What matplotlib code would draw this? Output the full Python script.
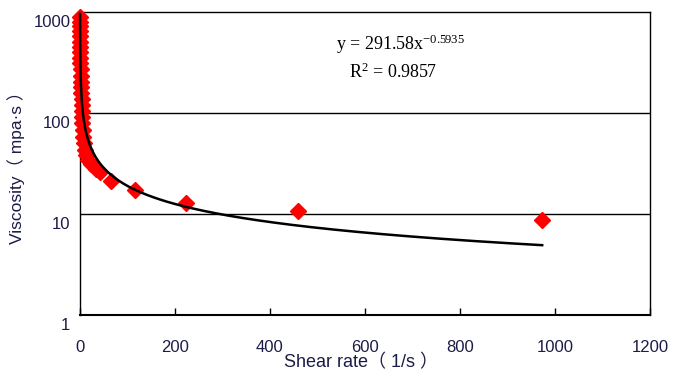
import matplotlib
matplotlib.use("Agg")
import matplotlib.pyplot as plt
import numpy as np
from matplotlib.transforms import ScaledTranslation

# Data
shear_rate = [0.15, 0.18, 0.22, 0.26, 0.31, 0.39, 0.48, 0.59, 0.74, 0.90, 1.14, 1.44,
              1.81, 2.25, 2.81, 3.2, 3.6, 4.0, 4.6, 5.2, 6.0, 7.0, 8.5, 10, 13, 17, 24,
              33, 42, 66, 116, 223, 459, 973]
viscosity = [900, 800, 720, 650, 580, 510, 450, 400, 350, 310, 270, 235,
             205, 180, 158, 138, 120, 105, 92, 80, 68, 58, 50, 43, 38, 34, 31,
             28, 26, 21, 17.3, 12.8, 10.6, 8.7]

fit_a = 291.58
fit_b = -0.5935
fit_r2 = 0.9857

x_ticks = [0, 200, 400, 600, 800, 1000, 1200]
y_ticks = [1, 10, 100, 1000]
y_ticklabels = ["1", "10", "100", "1000"]

label_color = "#1c1c48"

plt.rcParams["mathtext.fontset"] = "custom"
plt.rcParams["mathtext.rm"] = "Liberation Serif"
plt.rcParams["mathtext.it"] = "Liberation Serif"

fig = plt.figure(figsize=(6.76, 3.74), dpi=100)
ax = fig.add_axes([80/676, 1 - 315/374, (650-80)/676, (315-12)/374])

ax.set_yscale("log")
ax.set_xlim(0, 1200)
ax.set_ylim(1, 1000)

# horizontal gridlines at 10 and 100
for g in [10, 100]:
    ax.axhline(g, color="black", lw=1.0, zorder=1)

ax.plot(shear_rate, viscosity, linestyle="none", marker="D", ms=8.5,
        color="#ff0000", mec="#ff0000", clip_on=False, zorder=3)

xf = np.geomspace(min(shear_rate) * 0.9, max(shear_rate), 400)
ax.plot(xf, fit_a * xf ** fit_b, color="black", lw=1.8, zorder=4, clip_on=False)

ax.set_xticks(x_ticks)
ax.set_xticklabels([str(v) for v in x_ticks])
ax.set_yticks(y_ticks)
ax.set_yticklabels(y_ticklabels)
ax.yaxis.set_minor_locator(matplotlib.ticker.NullLocator())

ax.tick_params(axis="x", direction="in", length=5, width=1, pad=18,
               labelsize=12, labelcolor=label_color)
ax.tick_params(axis="y", length=0, pad=7, labelsize=12, labelcolor=label_color)
for lab in ax.get_xticklabels():
    lab.set_fontfamily("Liberation Sans")
off = ScaledTranslation(0, -9/100, fig.dpi_scale_trans)
for lab in ax.get_yticklabels():
    lab.set_fontfamily("Liberation Sans")
    lab.set_transform(lab.get_transform() + off)

for s in ax.spines.values():
    s.set_color("black")
    s.set_linewidth(1.0)
ax.spines["bottom"].set_linewidth(1.5)

fam = ["Liberation Sans", "Noto Sans CJK SC"]
fig.text(361/676, 1 - 363/374, "Shear rate（ 1/s ）", ha="center", va="center",
         fontsize=13, color=label_color, family=fam)
fig.text(16/676, 1 - 163/374, "Viscosity（ mpa·s ）", ha="center", va="center",
         rotation=90, fontsize=12.5, color=label_color, family=fam)

fig.text(400/676, 1 - 44/374, r"y = %.2fx$^{%.4f}$" % (fit_a, fit_b), ha="center",
         va="center", fontsize=13, family="Liberation Serif", color="black")
fig.text(393/676, 1 - 72/374, r"R$^{2}$ = %.4f" % fit_r2, ha="center",
         va="center", fontsize=13, family="Liberation Serif", color="black")

fig.savefig("out.png", dpi=100)
